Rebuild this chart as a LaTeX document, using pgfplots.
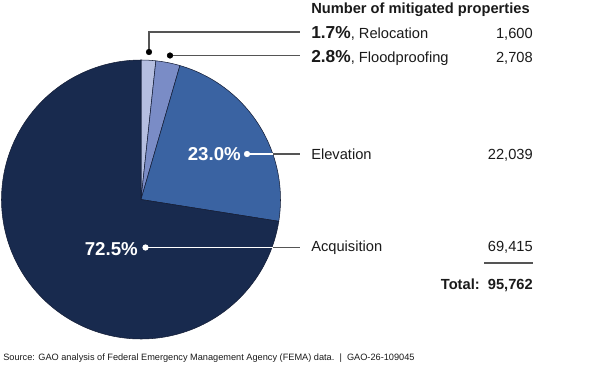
\documentclass[border=0pt]{standalone}
\usepackage{pgfplots}
\pgfplotsset{compat=1.18}
\usepackage{fontspec}
\setmainfont{Liberation Sans}
\definecolor{reloc}{HTML}{B5BEE0}
\definecolor{flood}{HTML}{7A8CC6}
\definecolor{elev}{HTML}{3A63A2}
\definecolor{acq}{HTML}{182A4E}
\definecolor{edgec}{HTML}{141D36}
\definecolor{linec}{HTML}{555555}
\definecolor{txt}{HTML}{1A1A1A}
\newcommand{\reg}{\fontsize{11}{13}\selectfont}
\newcommand{\bigpct}{\fontsize{13}{15}\selectfont\bfseries}
\begin{document}
\begin{tikzpicture}
\begin{axis}[
  scale only axis, width=450pt, height=273.75pt,
  xmin=0, xmax=600, ymin=0, ymax=365, y dir=reverse,
  hide axis, clip=false,
]
% full canvas (for the bounding box)
\path (axis cs:0,0) rectangle (axis cs:600,365);
% pie slices: percentages 1.7, 2.8, 23.0, 72.5 (clockwise from top)
\addplot[fill=reloc, draw=edgec, line width=0.4pt, domain={90-3.6*1.7}:90, samples=8]
  ({141+139.5*cos(x)},{199.5-139.5*sin(x)}) -- (141,199.5) -- cycle;
\addplot[fill=flood, draw=edgec, line width=0.4pt, domain={90-3.6*4.5}:{90-3.6*1.7}, samples=10]
  ({141+139.5*cos(x)},{199.5-139.5*sin(x)}) -- (141,199.5) -- cycle;
\addplot[fill=elev, draw=edgec, line width=0.4pt, domain={90-3.6*27.5}:{90-3.6*4.5}, samples=50]
  ({141+139.5*cos(x)},{199.5-139.5*sin(x)}) -- (141,199.5) -- cycle;
\addplot[fill=acq, draw=edgec, line width=0.4pt, domain={-270}:{90-3.6*27.5}, samples=140]
  ({141+139.5*cos(x)},{199.5-139.5*sin(x)}) -- (141,199.5) -- cycle;

% leader lines
\addplot[linec, line width=0.8pt, mark=none] coordinates {(149,52) (149,32) (300,32)};
\addplot[linec, line width=0.8pt, mark=none] coordinates {(170,55.5) (300,55.5)};
\addplot[linec, line width=0.8pt, mark=none] coordinates {(247,154) (300,154)};
\addplot[white, line width=0.8pt, mark=none] coordinates {(247,154) (272.9,154)};
\addplot[linec, line width=0.8pt, mark=none] coordinates {(145.5,247.5) (300,247.5)};
\addplot[white, line width=0.8pt, mark=none] coordinates {(145.5,247.5) (272.5,247.5)};
\addplot[only marks, mark=*, mark size=2.1pt, black] coordinates {(149,52) (170,55.5)};
\addplot[only marks, mark=*, mark size=2.1pt, white, mark options={draw=white, fill=white}] coordinates {(247,154) (145.5,247.5)};

% underline of last number
\addplot[linec, line width=0.8pt, mark=none] coordinates {(484,263) (533,263)};

% white percentage labels
\node[anchor=base east, text=white, font=\fontsize{14}{16}\selectfont\bfseries, inner sep=0pt] at (axis cs:241,160) {23.0\%};
\node[anchor=base east, text=white, font=\fontsize{14}{16}\selectfont\bfseries, inner sep=0pt] at (axis cs:138,255) {72.5\%};

% right-hand table
\node[anchor=base west, text=txt, font=\reg\bfseries, inner sep=0pt] at (axis cs:311,13) {Number of mitigated properties};
\node[anchor=base west, text=txt, inner sep=0pt] at (axis cs:311,38) {{\bigpct 1.7\%}{\reg, Relocation}};
\node[anchor=base west, text=txt, inner sep=0pt] at (axis cs:311,62) {{\bigpct 2.8\%}{\reg, Floodproofing}};
\node[anchor=base west, text=txt, font=\reg, inner sep=0pt] at (axis cs:311,159.5) {Elevation};
\node[anchor=base west, text=txt, font=\reg, inner sep=0pt] at (axis cs:311,251.5) {Acquisition};
\node[anchor=base east, text=txt, font=\reg, inner sep=0pt] at (axis cs:533,38) {1,600};
\node[anchor=base east, text=txt, font=\reg, inner sep=0pt] at (axis cs:533,62) {2,708};
\node[anchor=base east, text=txt, font=\reg, inner sep=0pt] at (axis cs:533,159.5) {22,039};
\node[anchor=base east, text=txt, font=\reg, inner sep=0pt] at (axis cs:533,251.5) {69,415};
\node[anchor=base east, text=txt, font=\reg\bfseries, inner sep=0pt] at (axis cs:533,289) {Total:\ \ 95,762};

% source
\node[anchor=base west, text=txt, font=\fontsize{6.9}{8}\selectfont, inner sep=0pt] at (axis cs:3,360.5) {Source: GAO analysis of Federal Emergency Management Agency (FEMA) data.\ \ |\ \ GAO-26-109045};
\end{axis}
\end{tikzpicture}
\end{document}
